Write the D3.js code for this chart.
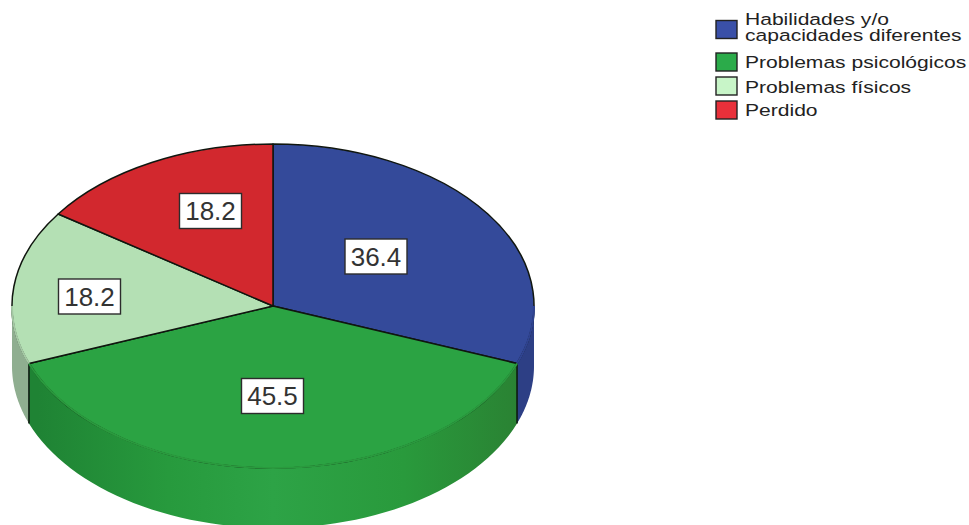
<!DOCTYPE html>
<html>
<head>
<meta charset="utf-8">
<style>
html, body { margin: 0; padding: 0; background: #fff; }
svg { display: block; }
text { font-family: "Liberation Sans", Arial, sans-serif; }
</style>
</head>
<body>
<svg id="chart" width="969" height="525"></svg>
<script src="https://cdn.jsdelivr.net/npm/d3@7/dist/d3.min.js"></script>
<script>
// Chart content
const categories = [["Habilidades y/o", "capacidades diferentes"], ["Problemas psicológicos"], ["Problemas físicos"], ["Perdido"]];
const percents = [36.4, 45.5, 18.2, 18.2];
const topColors = ["#344a9a", "#2ba343", "#b4e0b4", "#d2282e"];
const sideColors = ["#2d3f85", "url(#greenWall)", "#8fae90", "#a82226"];
const rimColors = ["#2f4390", "#2a9a3e", "#a4c8a4", "#a82226"];
const legendColors = ["#3a50a8", "#2bab4a", "#c8f5c8", "#e8303a"];

// Tilted disc geometry
const cx = 273, cy = 306, rx = 261, ry = 162, depth = 60;

const svg = d3.select("#chart");
const slices = d3.pie().sort(null).value(d => d)(percents);

// Wall shading of the front slice: darker toward its ends
const grad = svg.append("defs").append("linearGradient")
  .attr("id", "greenWall")
  .attr("gradientUnits", "userSpaceOnUse")
  .attr("x1", cx - rx).attr("x2", cx + rx).attr("y1", 0).attr("y2", 0);
[[0.05, "#1f8334"], [0.3, "#279a3d"], [0.5, "#2da346"], [0.75, "#299a3c"], [0.97, "#2a8233"]]
  .forEach(([o, c]) => grad.append("stop").attr("offset", o).attr("stop-color", c));

// Elliptical rim point for an angle measured clockwise from twelve o'clock
const rim = (a, dy = 0) => [cx + rx * Math.sin(a), cy - ry * Math.cos(a) + dy];
const sweep = (a0, a1) => d3.range(0, 61).map(k => a0 + (a1 - a0) * k / 60);

// Side walls: only the front half of the rim (90deg to 270deg) is visible
const front = [Math.PI / 2, 3 * Math.PI / 2];
const visibleSweep = s => {
  const a0 = Math.max(s.startAngle, front[0]);
  const a1 = Math.min(s.endAngle, front[1]);
  return a1 > a0 ? sweep(a0, a1) : null;
};
const wall = svg.append("g");
slices.forEach((s, i) => {
  const steps = visibleSweep(s);
  if (!steps) return;
  const area = d3.area()
    .x(a => rim(a)[0])
    .y0(a => rim(a)[1])
    .y1(a => rim(a, depth)[1]);
  wall.append("path").attr("d", area(steps)).attr("fill", sideColors[i]);
});

// Dark edges where the walls of neighbouring slices meet
slices.slice(0, 2).forEach(s => {
  const [x, y] = rim(s.endAngle);
  wall.append("line")
    .attr("x1", x).attr("y1", y).attr("x2", x).attr("y2", y + depth)
    .attr("stroke", "#0c1a10").attr("stroke-width", 1.6);
});

// Top face: a unit-radius arc squashed into the ellipse
const arc = d3.arc().innerRadius(0).outerRadius(1);
svg.append("g")
  .attr("transform", `translate(${cx},${cy}) scale(${rx},${ry})`)
  .selectAll("path")
  .data(slices)
  .join("path")
  .attr("d", arc)
  .attr("fill", (d, i) => topColors[i])
  .attr("stroke", "#10160f")
  .attr("stroke-width", 1.5)
  .attr("stroke-linejoin", "round")
  .attr("vector-effect", "non-scaling-stroke");

// The front rim has no dark outline, only a faint tone change
const rimLine = d3.line().x(a => rim(a)[0]).y(a => rim(a)[1]);
slices.forEach((s, i) => {
  const steps = visibleSweep(s);
  if (!steps) return;
  svg.append("path")
    .attr("d", rimLine(steps))
    .attr("fill", "none")
    .attr("stroke", rimColors[i])
    .attr("stroke-width", 2);
});

// Value labels in white boxes
const labelX = [376, 272.5, 89.5, 210.5];
const labelY = [256.5, 396, 296.5, 211];
const boxW = 62, boxH = 35;
const labels = svg.append("g").selectAll("g").data(percents).join("g")
  .attr("transform", (d, i) => `translate(${labelX[i]},${labelY[i]})`);
labels.append("rect")
  .attr("x", -boxW / 2).attr("y", -boxH / 2)
  .attr("width", boxW).attr("height", boxH)
  .attr("fill", "#fff").attr("stroke", "#2c2c2c").attr("stroke-width", 1.4);
labels.append("text")
  .attr("text-anchor", "middle").attr("dy", "0.36em")
  .attr("font-size", 26).attr("fill", "#333")
  .text(d => d.toFixed(1));

// Legend, with its type stretched horizontally
const swatchY = [29.5, 62, 86, 110];
const lineY = [[25, 41], [68], [93], [116]];
const legend = svg.append("g");
categories.forEach((lines, i) => {
  legend.append("rect")
    .attr("x", 716).attr("y", swatchY[i] - 9)
    .attr("width", 21).attr("height", 18)
    .attr("fill", legendColors[i]).attr("stroke", "#222").attr("stroke-width", 1.4);
  lines.forEach((t, j) => {
    legend.append("text")
      .attr("transform", `translate(745,${lineY[i][j]}) scale(1.24,1)`)
      .attr("font-size", 17).attr("fill", "#222")
      .text(t);
  });
});
</script>
</body>
</html>
